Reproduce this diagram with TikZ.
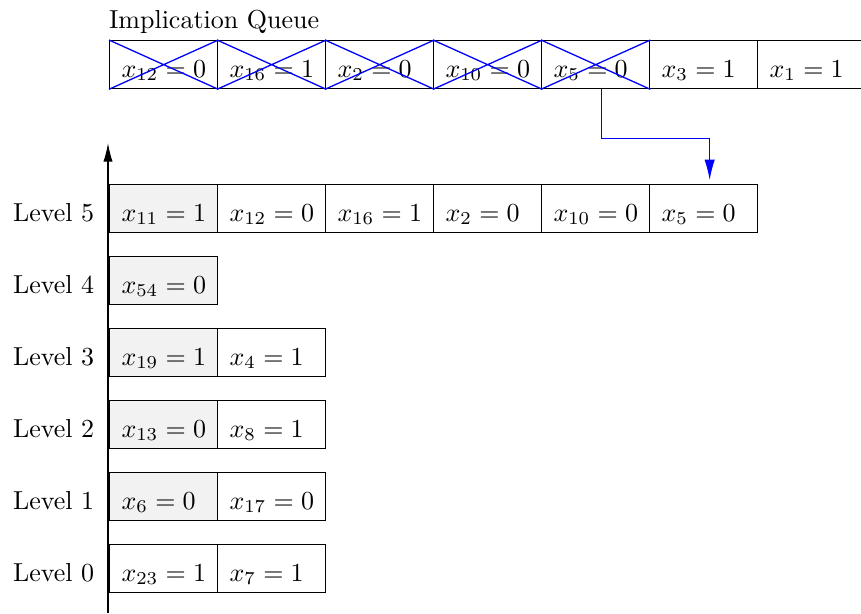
\documentclass[tikz,border=0pt]{standalone}
\usetikzlibrary{arrows.meta,calc}
\definecolor{cellgray}{HTML}{F2F2F2}
\tikzset{
  cellbox/.style={draw, line width=0.5pt, anchor=north west, minimum width=41.54pt, minimum height=18.46pt, inner sep=0pt},
  celltext/.style={anchor=base west, inner sep=0pt},
  crossline/.style={draw=blue, line width=0.5pt},
  bluearrow/.style={draw=blue, line width=0.5pt, -{Latex[length=7.8pt,width=4pt]}},
  axisarrow/.style={draw=black, line width=0.5pt, -{Latex[length=7.2pt,width=3.6pt]}}
}
\newcommand{\mycell}[5]{%
  \node[cellbox,fill=#5] (#1) at (#2,#3) {};
  \node[celltext] (#1t) at ({#2+12},{#3+37}) {#4};
}
\newcommand{\mycross}[1]{%
  \draw[crossline] (#1.north west) -- (#1.south east) (#1.south west) -- (#1.north east);
}
\begin{document}
\begin{tikzpicture}[x=0.3846pt,y=-0.3846pt]
\useasboundingbox (0,0) rectangle (861,613);
% queue
\node[celltext] (qlabel) at (108.5,28) {Implication Queue};
\mycell{q1}{109}{40}{$x_{12}=0$}{white}
\mycell{q2}{217}{40}{$x_{16}=1$}{white}
\mycell{q3}{325}{40}{$x_{2}=0$}{white}
\mycell{q4}{433}{40}{$x_{10}=0$}{white}
\mycell{q5}{541}{40}{$x_{5}=0$}{white}
\mycell{q6}{649}{40}{$x_{3}=1$}{white}
\mycell{q7}{757}{40}{$x_{1}=1$}{white}
\mycross{q1}\mycross{q2}\mycross{q3}\mycross{q4}\mycross{q5}
% axis
\coordinate (axb) at (108,613);
\coordinate (axt) at (108,143);
\draw[axisarrow] (axb) -- (axt);
% level 5
\node[celltext] (lab5) at (12.5,221) {Level 5};
\mycell{la}{109}{184}{$x_{11}=1$}{cellgray}
\mycell{lb}{217}{184}{$x_{12}=0$}{white}
\mycell{lc}{325}{184}{$x_{16}=1$}{white}
\mycell{ld}{433}{184}{$x_{2}=0$}{white}
\mycell{le}{541}{184}{$x_{10}=0$}{white}
\mycell{lf}{649}{184}{$x_{5}=0$}{white}
% level 4
\node[celltext] (lab4) at (12.5,293) {Level 4};
\mycell{ma}{109}{256}{$x_{54}=0$}{cellgray}
% level 3
\node[celltext] (lab3) at (12.5,365) {Level 3};
\mycell{na}{109}{328}{$x_{19}=1$}{cellgray}
\mycell{nb}{217}{328}{$x_{4}=1$}{white}
% level 2
\node[celltext] (lab2) at (12.5,437) {Level 2};
\mycell{oa}{109}{400}{$x_{13}=0$}{cellgray}
\mycell{ob}{217}{400}{$x_{8}=1$}{white}
% level 1
\node[celltext] (lab1) at (12.5,509) {Level 1};
\mycell{pa}{109}{472}{$x_{6}=0$}{cellgray}
\mycell{pb}{217}{472}{$x_{17}=0$}{white}
% level 0
\node[celltext] (lab0) at (12.5,581) {Level 0};
\mycell{ra}{109}{544}{$x_{23}=1$}{white}
\mycell{rb}{217}{544}{$x_{7}=1$}{white}
% blue arrow
\draw[bluearrow] ($(q5.south)+(6,0)$) -- ++(0,49) -| ($(lf.north)+(6,-4)$);
\end{tikzpicture}
\end{document}
